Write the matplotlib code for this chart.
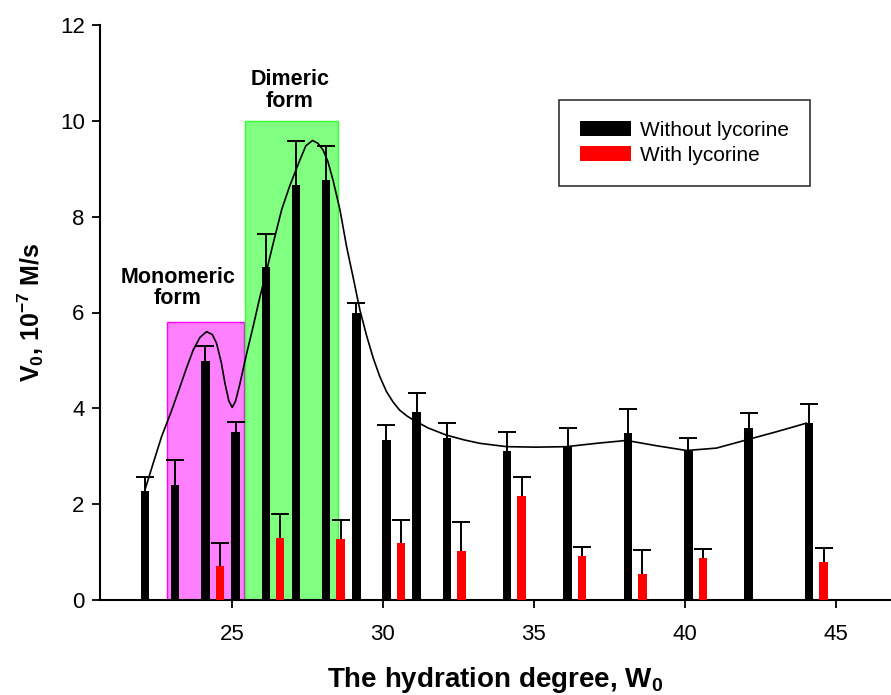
import matplotlib
matplotlib.use("Agg")
import matplotlib.pyplot as plt
from matplotlib.patches import Rectangle, Patch
import numpy as np

plt.rcParams['font.family'] = ['Liberation Sans', 'DejaVu Sans']
plt.rcParams['mathtext.fontset'] = 'custom'
plt.rcParams['mathtext.rm'] = 'Liberation Sans:bold'
plt.rcParams['mathtext.bf'] = 'Liberation Sans:bold'
plt.rcParams['mathtext.default'] = 'bf'

# ---- data ----
w0_without = [22, 23, 24, 25, 26, 27, 28, 29, 30, 31, 32, 34, 36, 38, 40, 42, 44]
v_without = [2.27, 2.41, 4.99, 3.51, 6.94, 8.67, 8.76, 5.98, 3.33, 3.92, 3.38,
             3.10, 3.19, 3.49, 3.11, 3.58, 3.69]
err_without = [0.30, 0.51, 0.31, 0.20, 0.70, 0.91, 0.71, 0.22, 0.32, 0.40, 0.31,
               0.40, 0.40, 0.50, 0.28, 0.32, 0.40]

w0_with = [24, 26, 28, 30, 32, 34, 36, 38, 40, 44]
v_with = [0.70, 1.29, 1.27, 1.18, 1.03, 2.17, 0.92, 0.55, 0.88, 0.80]
err_with = [0.50, 0.50, 0.40, 0.49, 0.60, 0.40, 0.19, 0.49, 0.19, 0.29]

curve_x = [22.12, 22.39, 22.67, 23.0, 23.28, 23.5, 23.72, 23.94, 24.16, 24.35, 24.49,
           24.65, 24.77, 24.9, 25.01, 25.12, 25.26, 25.49, 25.7, 25.93, 26.14, 26.37,
           26.65, 26.92, 27.25, 27.45, 27.67, 27.85, 28.02, 28.18, 28.35, 28.58, 28.80,
           29.02, 29.24, 29.46, 29.68, 29.9, 30.12, 30.34, 30.56, 30.8, 31.0, 31.5, 32.11,
           32.7, 33.21, 34.1, 35.09, 36.08, 37.08, 38.07, 39.06, 40.06, 41.05, 42.04,
           43.03, 44.03]
curve_y = [2.30, 2.85, 3.41, 3.95, 4.45, 4.85, 5.22, 5.48, 5.60, 5.54, 5.36,
           4.95, 4.52, 4.15, 4.02, 4.15, 4.50, 5.15, 5.70, 6.33, 6.85, 7.45,
           8.15, 8.65, 9.18, 9.48, 9.59, 9.53, 9.39, 9.15, 8.76, 8.14, 7.37,
           6.72, 6.05, 5.52, 5.05, 4.66, 4.35, 4.13, 3.96, 3.84, 3.76, 3.59, 3.44,
           3.34, 3.27, 3.20, 3.19, 3.20, 3.27, 3.33, 3.22, 3.12, 3.17, 3.34,
           3.51, 3.69]

mono_range = (22.84, 25.40, 5.81)
dimer_range = (25.43, 28.50, 10.0)

labels = ['Without lycorine', 'With lycorine']
xticks = [25, 30, 35, 40, 45]
yticks = [0, 2, 4, 6, 8, 10, 12]

# ---- figure ----
fig = plt.figure(figsize=(8.91, 6.95), dpi=100)
ax = fig.add_axes([100/891, 1-600/695, 790/891, 575/695])

ax.add_patch(Rectangle((mono_range[0], 0), mono_range[1]-mono_range[0], mono_range[2],
                       facecolor='#ff80ff', edgecolor='#ff00ff', linewidth=1.0, zorder=1))
ax.add_patch(Rectangle((dimer_range[0], 0), dimer_range[1]-dimer_range[0], dimer_range[2],
                       facecolor='#80ff80', edgecolor='#33ff33', linewidth=1.0, zorder=1))

bw = 0.28
off_black = 0.12
off_red = 0.60
xb = np.array(w0_without) + off_black
xr = np.array(w0_with) + off_red

ax.bar(xb, v_without, width=bw, color='black', zorder=3)
ax.bar(xr, v_with, width=bw, color='#ff0000', zorder=3)


def upper_err(x, v, e):
    _, caps, _ = ax.errorbar(x, v, yerr=[np.zeros(len(e)), e], fmt='none',
                             ecolor='black', elinewidth=1.4, capsize=6.5, capthick=1.4,
                             zorder=4)
    vv = np.asarray(v, dtype=float)
    for c in caps:
        yd = np.asarray(c.get_ydata(), dtype=float)
        if np.allclose(yd, vv):
            c.set_visible(False)


upper_err(xb, v_without, err_without)
upper_err(xr, v_with, err_with)

ax.plot(curve_x, curve_y, color='black', linewidth=1.2, zorder=5)

ax.text(23.21, 6.51, 'Monomeric\nform', ha='center', va='center', fontsize=15.5,
        fontweight='bold', linespacing=1.05, zorder=6)
ax.text(26.92, 10.64, 'Dimeric\nform', ha='center', va='center', fontsize=15.5,
        fontweight='bold', linespacing=1.05, zorder=6)

ax.set_xlim(20.63, 46.8)
ax.set_ylim(0, 12)
ax.set_xticks(xticks)
ax.set_yticks(yticks)
ax.tick_params(axis='both', direction='out', length=6, width=1.3, labelsize=16)
ax.tick_params(axis='x', pad=11)
ax.tick_params(axis='y', pad=5)
for s in ['top', 'right']:
    ax.spines[s].set_visible(False)
for s in ['left', 'bottom']:
    ax.spines[s].set_linewidth(1.5)

ax.set_xlabel('The hydration degree, W$_0$', fontsize=20, fontweight='bold', labelpad=15)
ax.set_ylabel('V$_0$, 10$^{\u22127}$ M/s', fontsize=18, fontweight='bold', labelpad=10)

handles = [Patch(facecolor='black', edgecolor='none'), Patch(facecolor='#ff0000', edgecolor='none')]
leg = ax.legend(handles, labels, loc='upper left', bbox_to_anchor=((559-100)/790, (600-100)/575),
                fontsize=15, frameon=True, fancybox=False, edgecolor='black', borderpad=1.0,
                handlelength=2.45, handleheight=0.72, handletextpad=0.45, labelspacing=0.3,
                borderaxespad=0)
leg.get_frame().set_linewidth(1.2)
leg.set_zorder(7)

fig.savefig('out.png', dpi=100)
